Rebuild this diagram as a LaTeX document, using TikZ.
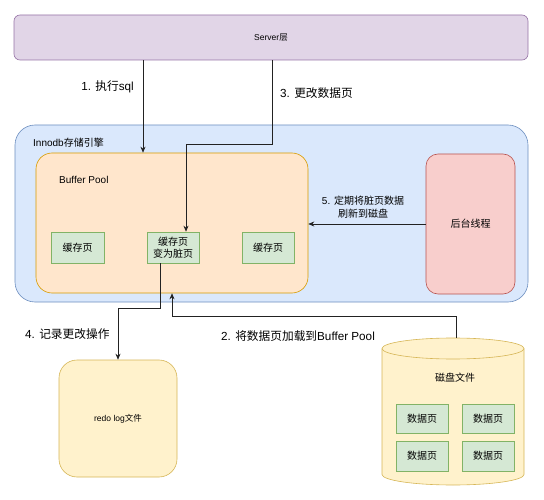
\documentclass[tikz,border=0pt]{standalone}
\usepackage{fontspec}
\setmainfont{Liberation Sans}
\newfontfamily\cjk{Noto Sans CJK SC}
\usetikzlibrary{arrows.meta}
\definecolor{purF}{HTML}{E1D5E7}\definecolor{purD}{HTML}{9673A6}
\definecolor{bluF}{HTML}{DAE8FC}\definecolor{bluD}{HTML}{6C8EBF}
\definecolor{orgF}{HTML}{FFE6CC}\definecolor{orgD}{HTML}{D79B00}
\definecolor{grnF}{HTML}{D5E8D4}\definecolor{grnD}{HTML}{82B366}
\definecolor{redF}{HTML}{F8CECC}\definecolor{redD}{HTML}{B85450}
\definecolor{ylwF}{HTML}{FFF2CC}\definecolor{ylwD}{HTML}{D6B656}
\definecolor{lineC}{HTML}{222222}
\begin{document}
\begin{tikzpicture}[x=1pt,y=-1pt,
  box/.style={draw, line width=0.6pt, inner sep=0pt, align=center},
  page/.style={box, fill=grnF, draw=grnD, minimum width=52pt, minimum height=30pt, font=\fontsize{10}{12}\selectfont},
  arr/.style={draw=lineC, line width=0.7pt, -{Stealth[length=6pt,width=5pt]}},
  lbl/.style={inner sep=0pt, font=\fontsize{11.7}{14}\selectfont}
]
\useasboundingbox (0,0) rectangle (544,500);
% Server
\node[box, fill=purF, draw=purD, rounded corners=6pt, minimum width=514pt, minimum height=45pt,
  font=\fontsize{8.5}{10}\selectfont] (server) at (271,37.5) {Server{\cjk 层}};
% Innodb
\node[box, fill=bluF, draw=bluD, rounded corners=20pt, minimum width=513pt, minimum height=177pt] (innodb) at (271.5,213.5) {};
\node[inner sep=0pt, anchor=west, font=\fontsize{10}{12}\selectfont] (innolbl) at (33,143) {Innodb{\cjk 存储引擎}};
% Buffer Pool
\node[box, fill=orgF, draw=orgD, rounded corners=16pt, minimum width=272pt, minimum height=140pt] (bp) at (172,223) {};
\node[inner sep=0pt, anchor=west, font=\fontsize{10}{12}\selectfont] (bplbl) at (59,180) {Buffer Pool};
\node[page, minimum width=53pt, minimum height=31pt] (c1) at (77.5,247.5) {\cjk 缓存页};
\node[page, minimum height=31pt, font=\fontsize{10}{12}\selectfont] (c2) at (173,247.5) {\cjk 缓存页\\\cjk 变为脏页};
\node[page, minimum height=31pt] (c3) at (268,247.5) {\cjk 缓存页};
% background thread
\node[box, fill=redF, draw=redD, rounded corners=12pt, minimum width=89pt, minimum height=140pt,
  font=\fontsize{10}{12}\selectfont] (bg) at (470.5,224) {\cjk 后台线程};
% redo log
\node[box, fill=ylwF, draw=ylwD, rounded corners=18pt, minimum width=118pt, minimum height=117pt,
  font=\fontsize{8.5}{10}\selectfont] (redo) at (118,418.5) {redo log{\cjk 文件}};
% disk cylinder
\fill[ylwF] (382,348.5) -- (382,474.5) arc (180:0:71 and 10.5) -- (524,348.5) arc (360:180:71 and 10.5) -- cycle;
\draw[ylwD, line width=0.6pt] (382,348.5) -- (382,474.5) arc (180:0:71 and 10.5) -- (524,348.5) arc (360:180:71 and 10.5) -- cycle;
\draw[ylwD, line width=0.6pt] (382,348.5) arc (180:0:71 and 10.5);
\coordinate (disktop) at (456,338);
\node[inner sep=0pt, font=\fontsize{10}{12}\selectfont] (disklbl) at (455,378) {\cjk 磁盘文件};
\node[page, minimum height=29pt] (d1) at (422,418.5) {\cjk 数据页};
\node[page, minimum height=29pt] (d2) at (488,418.5) {\cjk 数据页};
\node[page, minimum height=30pt] (d3) at (422,456) {\cjk 数据页};
\node[page, minimum height=30pt] (d4) at (488,456) {\cjk 数据页};
% connector helper coordinates
\coordinate (x1) at (143,0);
\coordinate (x3) at (272,0);
\coordinate (b3) at (186,144);
\coordinate (x4) at (160,0);
\coordinate (b4) at (118,308);
\coordinate (b2) at (172,316);
% arrows
\draw[arr] (server.south -| x1) -- (bp.north -| x1);
\draw[arr] (server.south -| x3) |- (b3) -- (c2.north -| b3);
\draw[arr] (bg.west) -- (bg.west -| bp.east);
\draw[arr] (c2.south -| x4) |- (b4) -- (redo.north);
\draw[arr] (disktop) |- (b2) -- (bp.south);
% labels
\node[lbl, anchor=east] (l1) at (134,87) {1. {\cjk 执行}sql};
\node[lbl, anchor=west] (l3) at (280,93) {3. {\cjk 更改数据页}};
\node[inner sep=0pt, align=center, font=\fontsize{10}{13}\selectfont] (l5) at (363,207) {5. {\cjk 定期将脏页数据}\\{\cjk 刷新到磁盘}};
\node[lbl, anchor=west] (l4) at (25,334) {4. {\cjk 记录更改操作}};
\node[lbl, anchor=west] (l2) at (221,336) {2. {\cjk 将数据页加载到}Buffer Pool};
\end{tikzpicture}
\end{document}
